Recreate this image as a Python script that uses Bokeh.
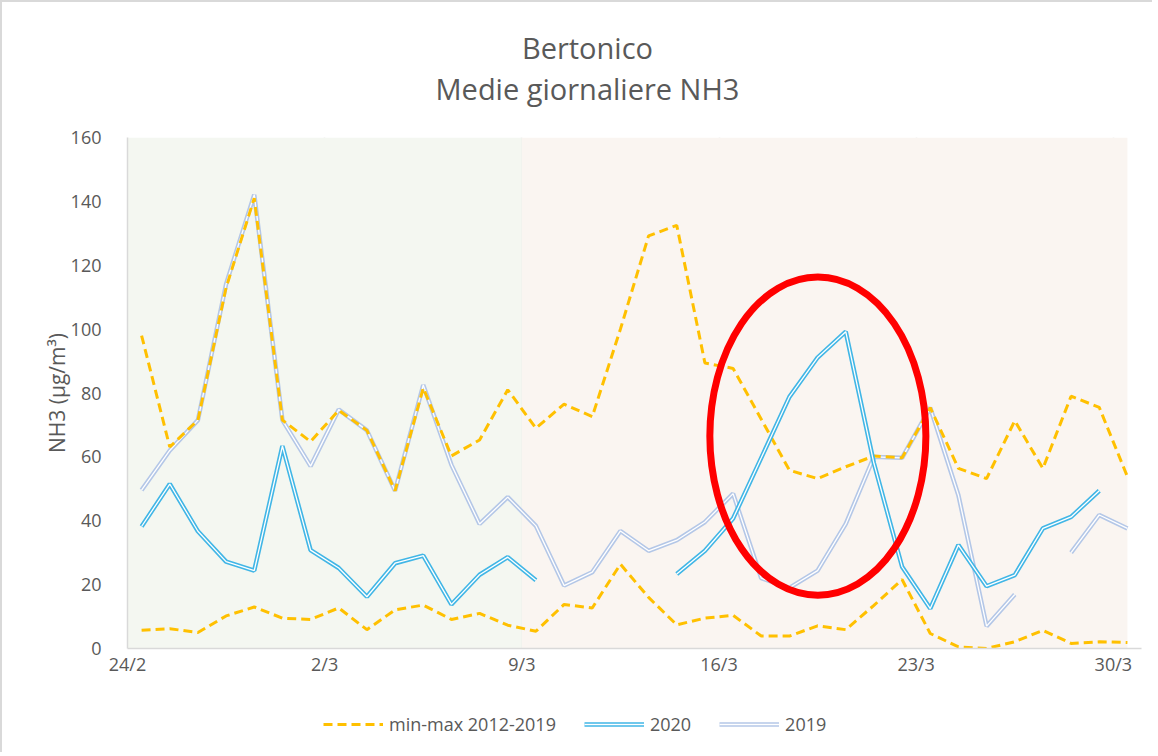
from bokeh.plotting import figure
from bokeh.layouts import column
from bokeh.models import FixedTicker, Legend, LegendItem, Label
from bokeh.embed import file_html
from bokeh.resources import INLINE

nan = float("nan")

# ---------------- data ----------------
days = ["24/2", "25/2", "26/2", "27/2", "28/2", "29/2", "1/3", "2/3", "3/3", "4/3",
        "5/3", "6/3", "7/3", "8/3", "9/3", "10/3", "11/3", "12/3", "13/3", "14/3",
        "15/3", "16/3", "17/3", "18/3", "19/3", "20/3", "21/3", "22/3", "23/3", "24/3",
        "25/3", "26/3", "27/3", "28/3", "29/3", "30/3"]

tick_labels = ["24/2", "2/3", "9/3", "16/3", "23/3", "30/3"]

max_2012_2019 = [98.0, 63.1, 71.5, 113.0, 141.0, 71.5, 64.8, 74.6, 68.3, 49.4,
                 81.6, 60.3, 65.3, 81.0, 69.0, 76.5, 72.6, 100.0, 129.2, 132.5,
                 89.4, 87.7, 71.8, 55.8, 53.2, 56.9, 60.3, 59.7, 75.4, 56.4,
                 53.2, 71.3, 56.4, 79.0, 75.5, 53.8]

min_2012_2019 = [5.7, 6.2, 5.0, 10.2, 13.0, 9.5, 9.1, 12.7, 5.9, 12.1,
                 13.6, 9.1, 11.0, 7.3, 5.4, 13.8, 12.7, 26.4, 16.0, 7.4,
                 9.5, 10.4, 3.9, 3.9, 7.1, 5.9, 13.5, 21.6, 4.7, 0.5,
                 0.0, 2.1, 5.7, 1.6, 2.1, 1.9]

y2020 = [38.2, 51.5, 36.7, 27.2, 24.4, 63.4, 30.8, 25.2, 16.2, 26.7,
         29.1, 13.8, 23.1, 28.6, 21.4, nan, nan, nan, nan, 23.3,
         30.6, 40.7, 59.7, 78.8, 91.1, 99.2, 58.0, 25.6, 12.5, 32.4,
         19.5, 23.0, 37.6, 41.2, 49.4, nan]

y2019 = [49.6, 62.0, 71.5, 114.1, 142.1, 71.5, 57.1, 74.8, 68.3, 49.4,
         82.5, 57.5, 39.0, 47.4, 38.4, 19.7, 23.9, 36.8, 30.6, 33.9,
         39.6, 48.5, 22.0, 19.0, 24.4, 39.0, 60.0, 59.7, 75.4, 48.0,
         7.0, 16.9, nan, 30.0, 41.8, 37.6]

title_lines = ["Bertonico", "Medie giornaliere NH3"]

# ---------------- styling ----------------
FONT = "Open Sans"
TXT = "#595959"
GRID = "#D9D9D9"
YELLOW = "#FFC000"
BLUE = "#41B6E6"
GRAY = "#B4C7E7"
DASH = "9 5"
W = 1150
ML, MR = 125, 11

x = [i + 0.5 for i in range(len(days))]
tick_pos = [days.index(t) for t in tick_labels]
n_days = len(days)
split_day = days.index("9/3")


def bare(fig):
    fig.axis.visible = False
    fig.grid.visible = False
    fig.outline_line_color = None
    fig.background_fill_color = "white"
    fig.border_fill_color = "white"


# ---------------- title strip ----------------
TH = 110
tt = figure(width=W, height=TH, x_range=(0, n_days), y_range=(0, TH),
            output_backend="svg", toolbar_location=None,
            min_border_left=ML, min_border_right=MR, min_border_top=0, min_border_bottom=0)
bare(tt)
TITLE_X = 16.33
for txt, ty in zip(title_lines, (65, 24)):
    tt.add_layout(Label(x=TITLE_X, y=ty, text=txt, text_align="center", text_baseline="middle",
                        text_font=FONT, text_font_size="29px", text_color=TXT))

# ---------------- main chart ----------------
p = figure(width=W, height=590, x_range=(0, n_days), y_range=(0, 160),
           output_backend="svg", toolbar_location=None,
           min_border_left=ML, min_border_right=MR,
           min_border_top=25, min_border_bottom=54)
p.outline_line_color = None
p.background_fill_color = "white"
p.border_fill_color = "white"

p.quad(left=[0], right=[split_day], bottom=[0], top=[160], color="#F4F7F1", line_color=None)
p.quad(left=[split_day], right=[x[-1]], bottom=[0], top=[160], color="#FAF5F1", line_color=None)

p.xaxis.ticker = FixedTicker(ticks=tick_pos)
p.xaxis.major_label_overrides = {pos: lab for pos, lab in zip(tick_pos, tick_labels)}
p.yaxis.ticker = FixedTicker(ticks=list(range(0, 161, 20)))
for ax in (p.xaxis, p.yaxis):
    ax.major_tick_line_color = None
    ax.minor_tick_line_color = None
    ax.axis_line_color = GRID
    ax.axis_line_width = 1.5
    ax.major_label_text_font = FONT
    ax.major_label_text_font_size = "18px"
    ax.major_label_text_color = TXT
p.xaxis.major_label_standoff = -3
p.yaxis.major_label_standoff = 20
p.yaxis.axis_label = "NH3 (µg/m³)"
p.yaxis.axis_label_text_font = FONT
p.yaxis.axis_label_text_font_size = "21px"
p.yaxis.axis_label_text_font_style = "normal"
p.yaxis.axis_label_text_color = TXT
p.yaxis.axis_label_standoff = -3

p.ygrid.grid_line_color = None
p.xgrid.ticker = FixedTicker(ticks=tick_pos)
p.xgrid.grid_line_color = GRID
p.xgrid.grid_line_width = 1.5


def draw_series(fig):
    r19a = fig.line(x, y2019, line_color=GRAY, line_width=4.5)
    r19b = fig.line(x, y2019, line_color="white", line_width=1.3)
    rmax = fig.line(x, max_2012_2019, line_color=YELLOW, line_width=3, line_dash=DASH)
    rmin = fig.line(x, min_2012_2019, line_color=YELLOW, line_width=3, line_dash=DASH)
    r20a = fig.line(x, y2020, line_color=BLUE, line_width=4.5)
    r20b = fig.line(x, y2020, line_color="white", line_width=1.3)
    return rmax, (r20a, r20b), (r19a, r19b)


draw_series(p)

ELL_X, ELL_Y, ELL_W, ELL_H = 24.51, 66.5, 7.67, 99.6
p.ellipse(x=[ELL_X], y=[ELL_Y], width=[ELL_W], height=[ELL_H],
          fill_color=None, line_color="#FF0000", line_width=7)

# ---------------- legend strip ----------------
# same series drawn in a range where they are out of view; used only for the legend keys
lg = figure(width=W, height=50, x_range=(0, n_days), y_range=(-1000, -999),
            output_backend="svg", toolbar_location=None,
            min_border_left=ML, min_border_right=MR, min_border_top=0, min_border_bottom=0)
bare(lg)
lmax, l20, l19 = draw_series(lg)
legend = Legend(items=[LegendItem(label="min-max 2012-2019", renderers=[lmax]),
                       LegendItem(label="2020", renderers=list(l20)),
                       LegendItem(label="2019", renderers=list(l19))],
                orientation="horizontal", location=(196, 16),
                glyph_width=60, glyph_height=20, label_standoff=6, spacing=28,
                padding=0, margin=0, border_line_color=None, background_fill_alpha=0,
                label_text_font=FONT, label_text_font_size="18px", label_text_color=TXT)
lg.add_layout(legend, "center")

layout = column(tt, p, lg, spacing=0,
                styles={"border-left": "2px solid #D9D9D9", "border-top": "2px solid #D9D9D9"})

open("out.html", "w").write(file_html(layout, INLINE))
